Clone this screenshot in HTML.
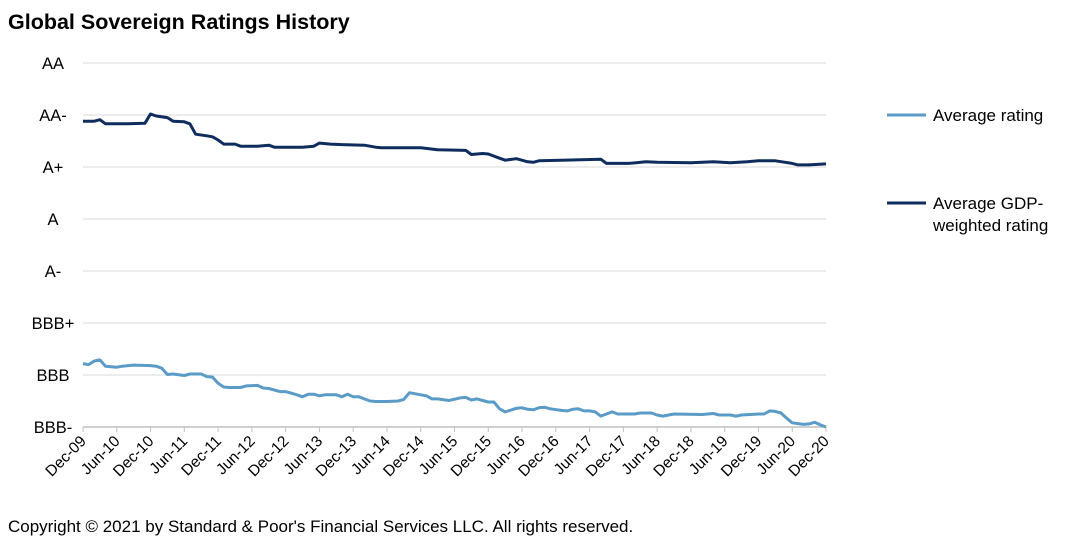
<!DOCTYPE html>
<html><head><meta charset="utf-8"><style>
body{margin:0;background:#fff;font-family:"Liberation Sans",sans-serif;}
svg{display:block}
text{font-family:"Liberation Sans",sans-serif;}
</style></head><body>
<svg id="c" width="1074" height="558">
<text x="8" y="29" font-size="21.5" font-weight="bold" fill="#000">Global Sovereign Ratings History</text>
<g id="grid"></g><g id="xa"></g><g id="lines"></g>
<g>
<line x1="887" y1="115" x2="926" y2="115" stroke="#5b9bc7" stroke-width="3"/>
<text x="933" y="121" font-size="17" fill="#000">Average rating</text>
<line x1="887" y1="203" x2="926" y2="203" stroke="#0e2d5e" stroke-width="3"/>
<text x="933" y="209" font-size="17" fill="#000">Average GDP-</text>
<text x="933" y="231" font-size="17" fill="#000">weighted rating</text>
</g>
<text x="8" y="532" font-size="17" fill="#000">Copyright © 2021 by Standard &amp; Poor's Financial Services LLC. All rights reserved.</text>
</svg>
<script>
const yLabels=["BBB-","BBB","BBB+","A-","A","A+","AA-","AA"];
const xLabels=["Dec-09","Jun-10","Dec-10","Jun-11","Dec-11","Jun-12","Dec-12","Jun-13","Dec-13","Jun-14","Dec-14","Jun-15","Dec-15","Jun-16","Dec-16","Jun-17","Dec-17","Jun-18","Dec-18","Jun-19","Dec-19","Jun-20","Dec-20"];
const gdpMonths=[0,2,3,4,8,11,12,13,15,16,18,19,20,22,23,24,25,27,28,31,33,34,39,41,42,44,46,50,52,53,60,63,68,69,71,72,74,75,77,79,80,81,85,92,93,97,100,102,108,112,115,118,120,123,126,127,129,132];
const gdpValues=[5.88,5.88,5.91,5.83,5.83,5.84,6.02,5.98,5.95,5.88,5.87,5.83,5.63,5.60,5.58,5.52,5.44,5.44,5.40,5.40,5.42,5.38,5.38,5.40,5.46,5.44,5.43,5.42,5.38,5.37,5.37,5.33,5.32,5.24,5.26,5.25,5.17,5.13,5.16,5.10,5.09,5.12,5.13,5.15,5.07,5.07,5.10,5.09,5.08,5.10,5.08,5.10,5.12,5.12,5.07,5.04,5.04,5.06];
const avgMonths=[0,1,2,3,4,6,7,9,12,13,14,15,16,18,19,21,22,23,24,25,26,28,29,31,32,33,35,36,38,39,40,41,42,43,45,46,47,48,49,51,52,54,56,57,58,60,61,62,63,65,67,68,69,70,71,72,73,74,75,77,78,79,80,81,82,83,85,86,87,88,89,90,91,92,94,95,98,99,101,102,103,105,110,111,112,113,115,116,117,120,121,122,123,124,125,126,128,129,130,131,132];
const avgValues=[1.22,1.20,1.27,1.29,1.17,1.15,1.17,1.19,1.18,1.17,1.13,1.01,1.02,0.99,1.02,1.02,0.97,0.96,0.84,0.77,0.76,0.76,0.79,0.80,0.75,0.74,0.68,0.68,0.62,0.58,0.63,0.63,0.60,0.62,0.62,0.58,0.63,0.58,0.58,0.50,0.49,0.49,0.50,0.53,0.66,0.62,0.60,0.54,0.54,0.51,0.56,0.57,0.52,0.54,0.51,0.48,0.48,0.35,0.29,0.36,0.37,0.34,0.33,0.37,0.38,0.35,0.32,0.31,0.34,0.35,0.31,0.31,0.29,0.21,0.29,0.25,0.25,0.27,0.27,0.23,0.21,0.25,0.24,0.25,0.26,0.23,0.23,0.21,0.23,0.25,0.25,0.31,0.30,0.27,0.17,0.08,0.05,0.06,0.09,0.04,0.00];
const NS="http://www.w3.org/2000/svg";
const X0=83,X1=826,Y0=427,STEP=52,NM=132;
const xs=m=>X0+(X1-X0)*m/NM, ys=v=>Y0-v*STEP;
function mk(t,a,p){const e=document.createElementNS(NS,t);for(const k in a)e.setAttribute(k,a[k]);p.appendChild(e);return e;}
const grid=document.getElementById('grid');
yLabels.forEach((l,i)=>{
 const y=ys(i);
 if(i>0){const g=mk('line',{x1:X0,x2:X1,y1:y,y2:y,stroke:'#d9d9d9','stroke-width':1},grid);
 
 }
 const t=mk('text',{x:53,y:y+6,'font-size':16.5,'text-anchor':'middle',fill:'#000'},grid);t.textContent=l;
 
 
});
const xa=document.getElementById('xa');
const ax=mk('line',{x1:X0,x2:X1,y1:Y0,y2:Y0,stroke:'#bfbfbf','stroke-width':1.5},xa);


xLabels.forEach((l,i)=>{
 const x=xs(i*6);
 const tk=mk('line',{x1:x,x2:x,y1:Y0,y2:Y0+5,stroke:'#bfbfbf'},xa);
 
 
 const t=mk('text',{x:x+4,y:Y0+15,'font-size':15.5,'text-anchor':'end',fill:'#000',transform:`rotate(-45 ${x+4} ${Y0+15})`},xa);t.textContent=l;
 
 
});
const lines=document.getElementById('lines');
function draw(ms,vs,col,name){
 const d=ms.map((m,i)=>(i?'L':'M')+xs(m).toFixed(1)+' '+ys(vs[i]).toFixed(1)).join(' ');
 const p=mk('path',{d:d,fill:'none',stroke:col,'stroke-width':3,'stroke-linejoin':'round'},lines);
 
 
}
draw(avgMonths,avgValues,'#5b9bc7','average-rating-line');
draw(gdpMonths,gdpValues,'#0e2d5e','gdp-weighted-rating-line');
</script>
</body></html>
